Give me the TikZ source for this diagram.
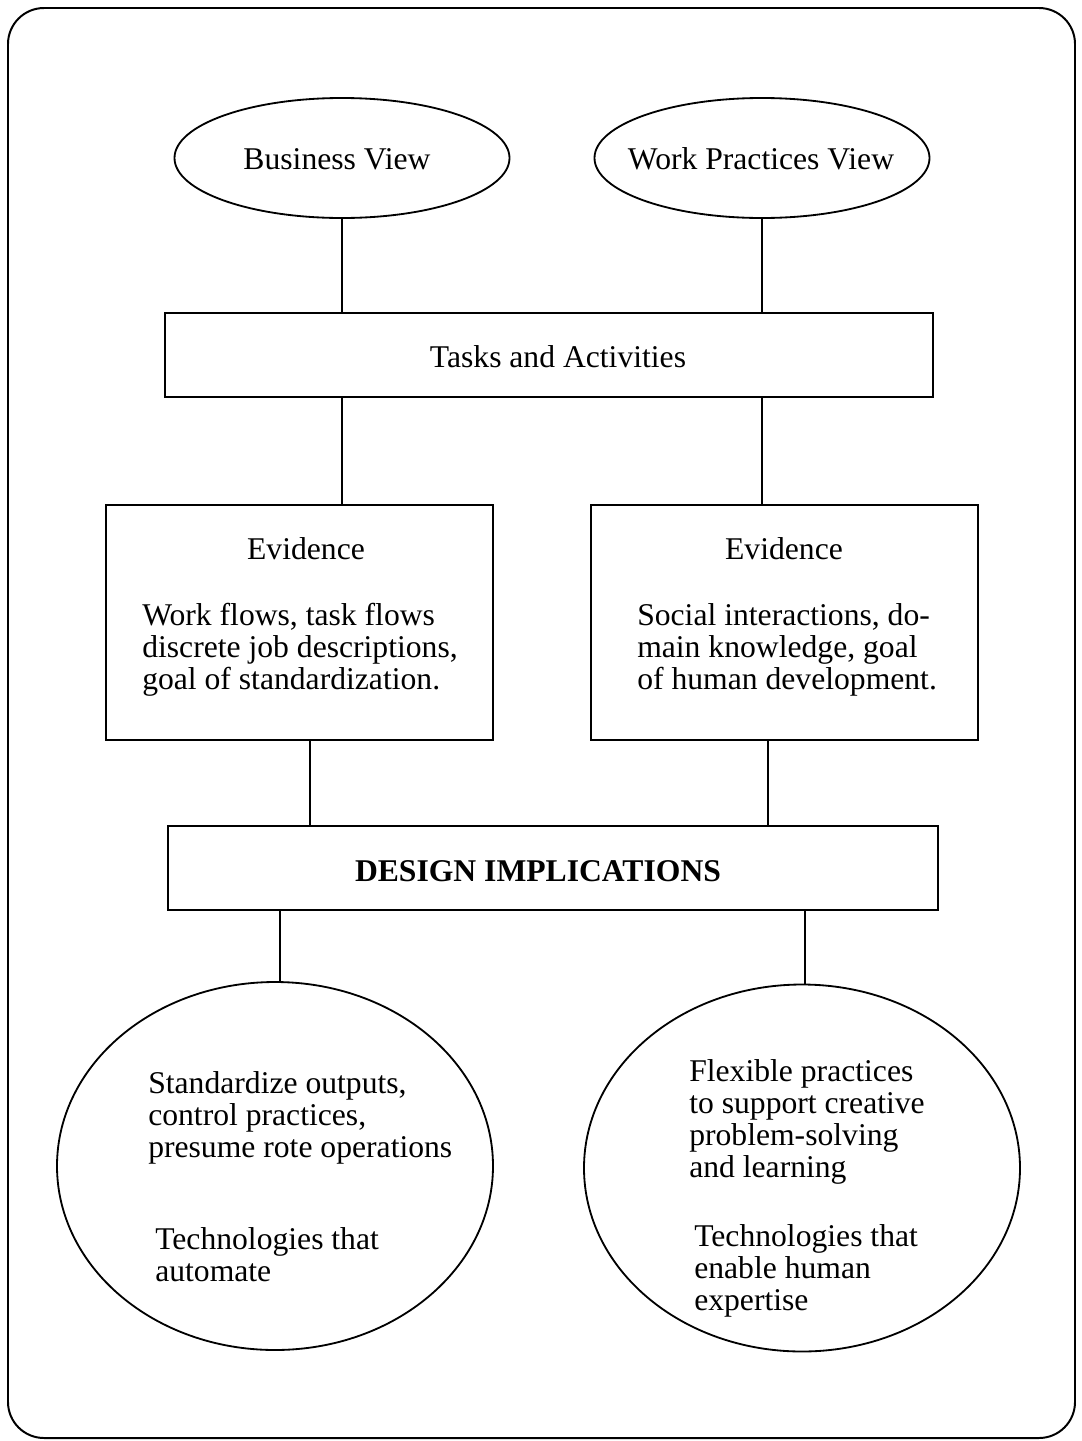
\documentclass[tikz,border=0pt]{standalone}
\usepackage{fontspec}
\setmainfont{Liberation Serif}
\usetikzlibrary{shapes.geometric, positioning}

\begin{document}
\begin{tikzpicture}[x=0.025cm, y=-0.025cm,
    every node/.style={font=\fontsize{22.5}{22.7}\selectfont},
    view/.style={draw, ellipse, line width=1.3pt, inner sep=0pt},
    bar/.style={draw, rectangle, line width=1.3pt, inner sep=0pt},
    body/.style={align=left, anchor=west, inner sep=0pt},
    link/.style={line width=1.3pt}]
    \useasboundingbox (0, 0) rectangle (1082, 1441);
    \draw[line width=1.4pt, rounded corners=0.9cm] (8, 8) rectangle (1075, 1438);

    % the two views
    \node[view, minimum width=335*0.025cm, minimum height=120*0.025cm] (bv) at (342, 158) {};
    \node[view, minimum width=335*0.025cm, minimum height=120*0.025cm] (wv) at (762, 158) {};
    \node (bvt) at (337, 159) {Business View};
    \node (wvt) at (761, 159) {Work Practices View};

    \node[bar, minimum width=768*0.025cm, minimum height=84*0.025cm] (tasks) at (549, 355) {};
    \node (taskst) at (558, 357) {Tasks and Activities};

    % evidence boxes
    \node[bar, minimum width=387*0.025cm, minimum height=235*0.025cm] (evl) at (299.5, 622.5) {};
    \node[bar, minimum width=387*0.025cm, minimum height=235*0.025cm] (evr) at (784.5, 622.5) {};
    \node (evlt) at (306, 549) {Evidence};
    \node (evrt) at (784, 549) {Evidence};
    \node[body] (evlb) at (142, 650) {Work flows, task flows\\discrete job descriptions,\\goal of standardization.};
    \node[body] (evrb) at (637, 650) {Social interactions, do-\\main knowledge, goal\\of human development.};

    \node[bar, minimum width=770*0.025cm, minimum height=84*0.025cm] (dsg) at (553, 868) {};
    \node (dsgt) at (538, 871) {\bfseries DESIGN IMPLICATIONS};

    % outcomes
    \node[view, minimum width=436*0.025cm, minimum height=368*0.025cm] (outl) at (275, 1166) {};
    \node[view, minimum width=436*0.025cm, minimum height=367*0.025cm] (outr) at (802, 1168) {};
    \node[body] (outla) at (148, 1118) {Standardize outputs,\\control practices,\\presume rote operations};
    \node[body] (outlb) at (155, 1255) {Technologies that\\automate};
    \node[body] (outra) at (689, 1122) {Flexible practices\\to support creative\\problem-solving\\and learning};
    \node[body] (outrb) at (694, 1271) {Technologies that\\enable human\\expertise};

    \draw[link]
    (bv.south) edge (bv.south |- tasks.north)
    (wv.south) edge (wv.south |- tasks.north)
    (tasks.south -| bv) edge (evl.north -| bv)
    (tasks.south -| wv) edge (evr.north -| wv)
    ([xshift=10.5*0.025cm]evl.south) edge ([xshift=10.5*0.025cm]evl.south |- dsg.north)
    ([xshift=-16.5*0.025cm]evr.south) edge ([xshift=-16.5*0.025cm]evr.south |- dsg.north)
    ([xshift=5*0.025cm]outl.north |- dsg.south) edge ([xshift=5*0.025cm]outl.north)
    ([xshift=3*0.025cm]outr.north |- dsg.south) edge ([xshift=3*0.025cm]outr.north);
\end{tikzpicture}
\end{document}
